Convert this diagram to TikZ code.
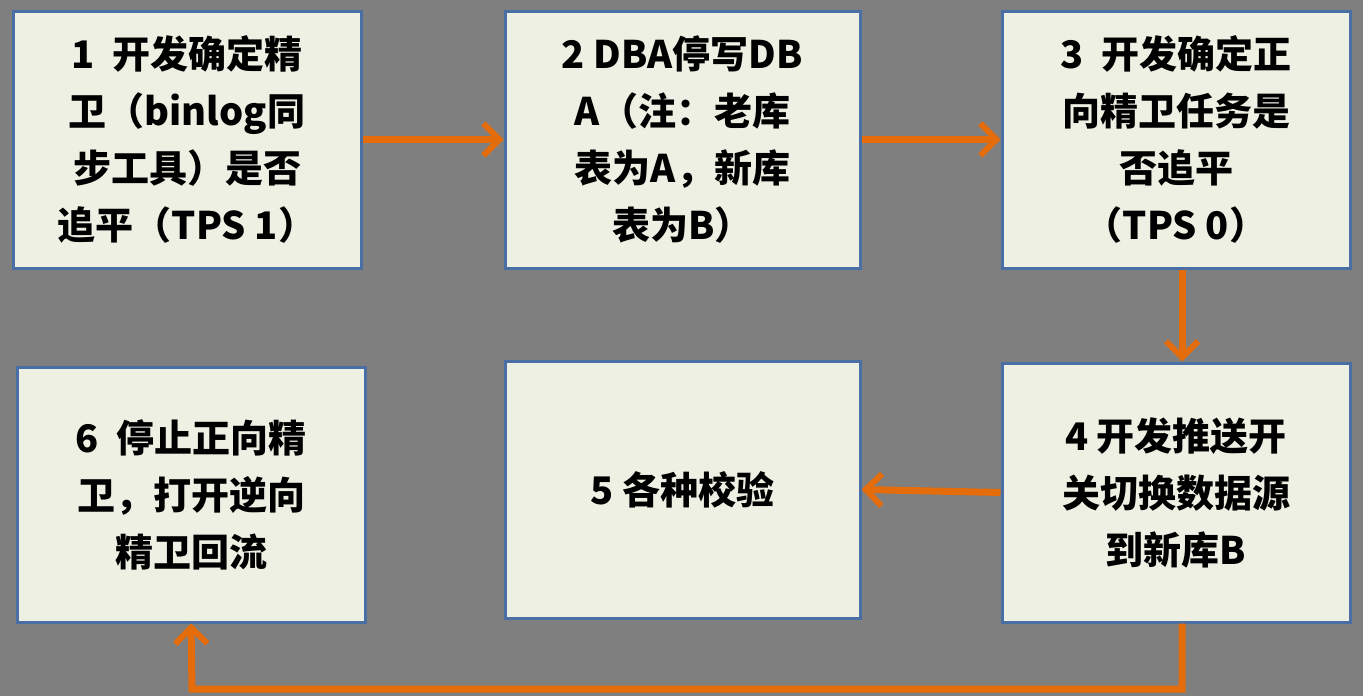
\documentclass[tikz,border=0pt]{standalone}
\usepackage{fontspec}
\setmainfont{Noto Sans CJK SC}
\usetikzlibrary{arrows.meta}
\definecolor{bg}{HTML}{7F7F7F}
\definecolor{boxfill}{HTML}{EEF0E4}
\definecolor{boxline}{HTML}{4A6FA5}
\definecolor{arr}{HTML}{E46C0A}
\tikzset{
  box/.style={draw=boxline,line width=3pt,fill=boxfill,minimum width=348pt,minimum height=257pt,align=center,font=\fontsize{38}{57}\selectfont\bfseries,inner sep=0pt},
  flow/.style={draw=arr,line width=7pt,-{Straight Barb[length=16pt,width=32pt,line width=6pt]}}
}
\begin{document}
\begin{tikzpicture}[x=1pt,y=-1pt]
\fill[bg] (0,0) rectangle (1363,696);
\useasboundingbox (0,0) rectangle (1363,696);
\node[box] (b1) at (187,139.5) {1\ \ 开发确定精\\卫（binlog同\\步工具）是否\\追平（TPS 1）};
\node[box,minimum width=355pt] (b2) at (682.5,139.5) {2 DBA停写DB\\A（注：老库\\表为A，新库\\表为B）};
\node[box] (b3) at (1176,139.5) {3\ \ 开发确定正\\向精卫任务是\\否追平\\（TPS 0）};
\node[box,minimum height=255pt] (b6) at (191,494.5) {6\ \ 停止正向精\\卫，打开逆向\\精卫回流};
\node[box,minimum width=355pt] (b5) at (682.5,489.5) {5 各种校验};
\node[box,minimum height=259pt] (b4) at (1176,492.5) {4 开发推送开\\关切换数据源\\到新库B};
\draw[flow] (b1.east) -- (b2.west);
\draw[flow] (b2.east) -- (b3.west);
\draw[flow] ([xshift=6pt]b3.south) -- ([xshift=6pt]b4.north);
\draw[flow] (b4.west) -- (b5.east);
\coordinate (c1) at (1182,689);
\coordinate (c2) at (192,689);
\draw[flow] ([xshift=6pt]b4.south) -- (c1) -- (c2) -- (b6.south);
\end{tikzpicture}
\end{document}
